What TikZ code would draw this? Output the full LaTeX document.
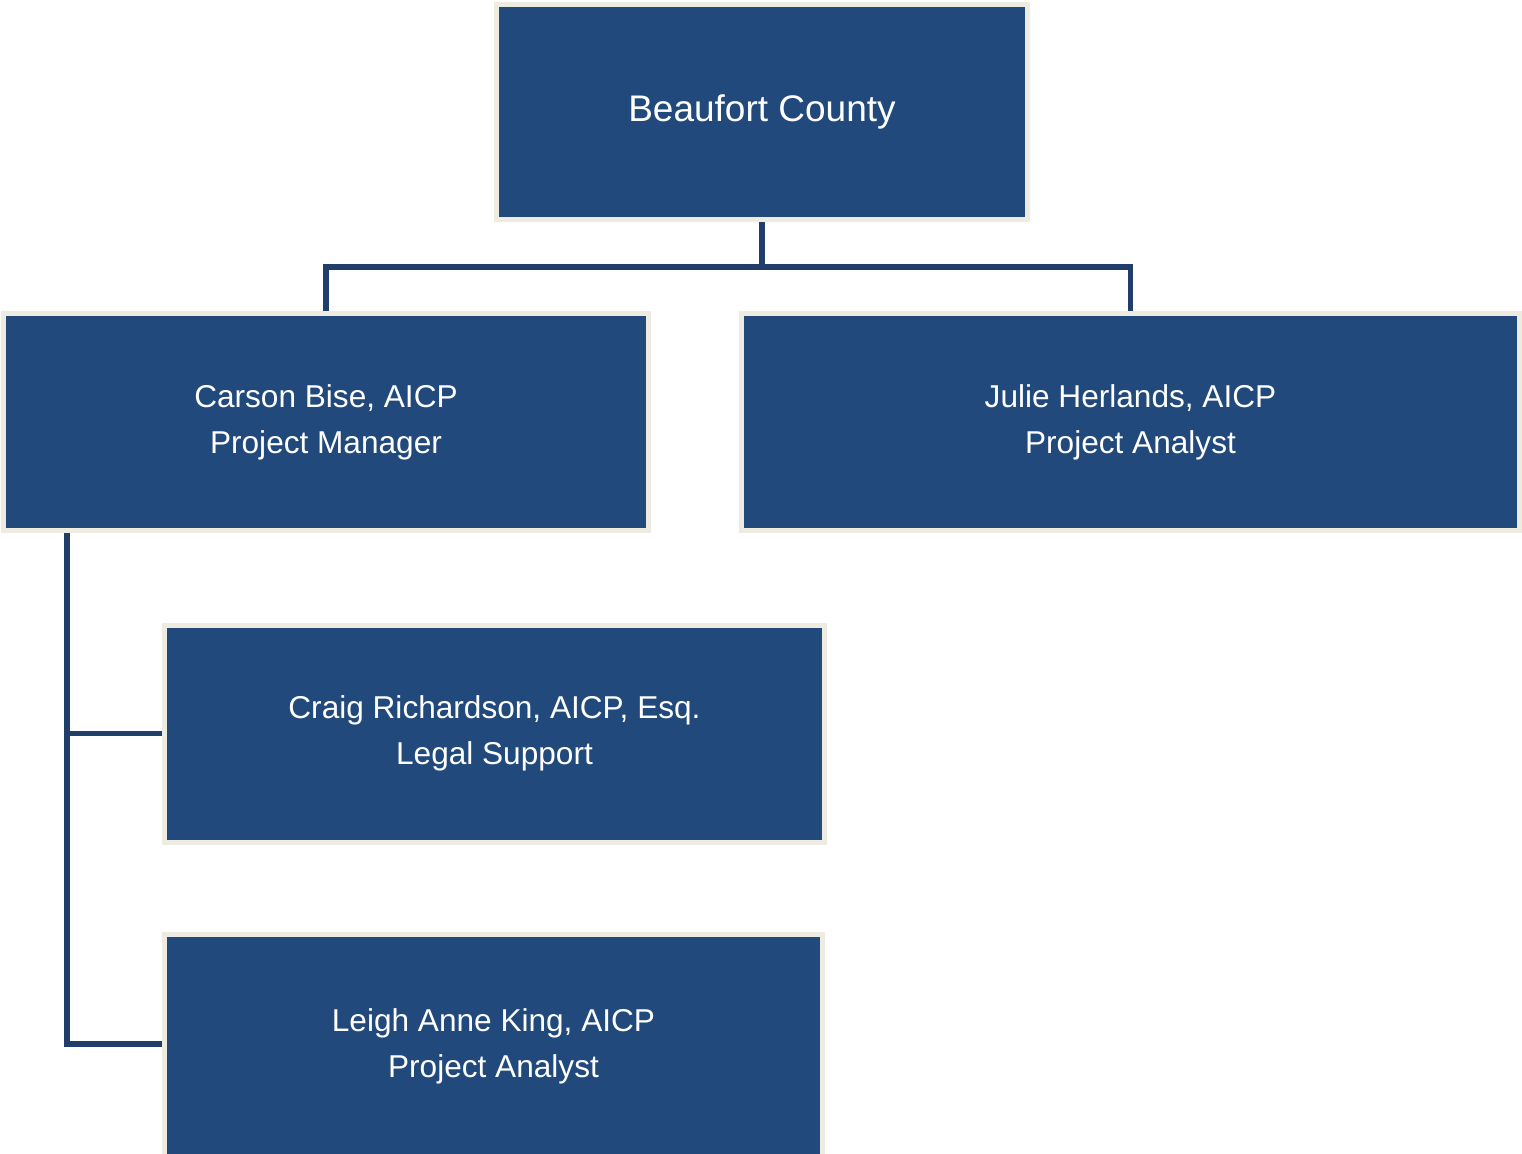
\documentclass[tikz,border=0pt]{standalone}
\usepackage{fontspec}
\setmainfont{Liberation Sans}
\usepackage{tikz}
\usetikzlibrary{calc}

\definecolor{boxblue}{RGB}{33,73,124}
\definecolor{boxrim}{RGB}{238,235,224}
\definecolor{linkblue}{RGB}{31,62,106}

\begin{document}
\begin{tikzpicture}[x=0.5pt,y=-0.5pt,
  org node/.style={rectangle,draw=boxrim,line width=2.5pt,fill=boxblue,text=white,
    align=center,inner sep=0pt,font=\fontsize{15.8}{23}\selectfont},
  link/.style={draw=linkblue,line width=2.8pt}]

  \useasboundingbox (0,0) rectangle (1522,1153);

  \node[org node,minimum width=265.5pt,minimum height=107.5pt,font=\fontsize{18.5}{23}\selectfont]
    (county) at (762,112) {Beaufort County};
  \node[org node,minimum width=322.5pt,minimum height=108.5pt] (carson) at (326,422)
    {Carson Bise, AICP\\Project Manager};
  \node[org node,minimum width=389pt,minimum height=108.5pt] (julie) at (1130.5,422)
    {Julie Herlands, AICP\\Project Analyst};
  \node[org node,minimum width=330pt,minimum height=108.5pt] (craig) at (494.5,733.5)
    {Craig Richardson, AICP, Esq.\\Legal Support};
  \node[org node,minimum width=329pt,minimum height=112pt] (leigh) at (493.5,1046)
    {Leigh Anne King, AICP\\Project Analyst};

  % connectors
  \path[link] (county.south) -- ++(0,45) -| (carson.north);
  \path[link] (county.south) -- ++(0,45) -| (julie.north);
  \coordinate (spine) at ($(carson.south west)+(66,0)$);
  \path[link] (spine) |- (craig.west);
  \path[link] (spine) |- ([yshift=1pt]leigh.west);
\end{tikzpicture}
\end{document}
